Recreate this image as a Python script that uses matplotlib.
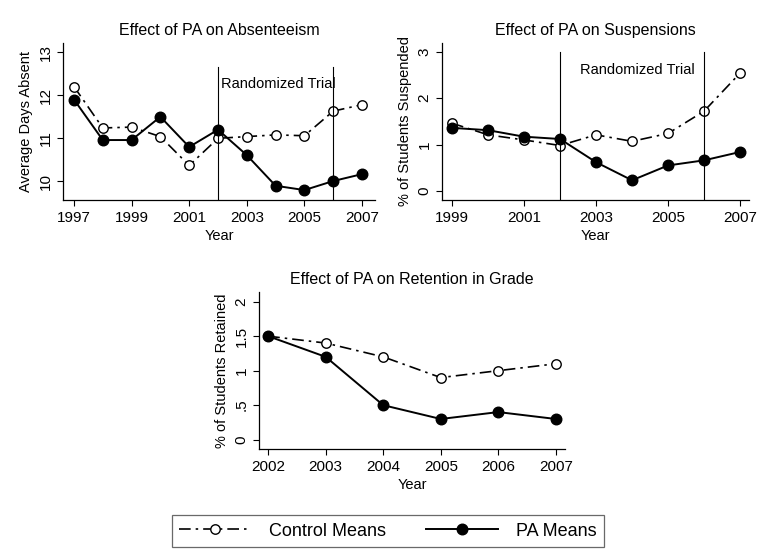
import matplotlib
matplotlib.use('Agg')
import matplotlib.pyplot as plt
from matplotlib.lines import Line2D

plt.rcParams['font.family'] = ['Liberation Sans', 'DejaVu Sans']

# Absenteeism
years_abs = [1997, 1998, 1999, 2000, 2001, 2002, 2003, 2004, 2005, 2006, 2007]
ctrl_abs = [12.2, 11.24, 11.26, 11.04, 10.37, 11.0, 11.04, 11.08, 11.06, 11.63, 11.78]
pa_abs = [11.9, 10.96, 10.96, 11.5, 10.8, 11.2, 10.61, 9.9, 9.8, 10.01, 10.17]

# Suspensions
years_sus = [1999, 2000, 2001, 2002, 2003, 2004, 2005, 2006, 2007]
ctrl_sus = [1.46, 1.21, 1.10, 0.98, 1.21, 1.07, 1.24, 1.72, 2.54]
pa_sus = [1.36, 1.31, 1.17, 1.12, 0.62, 0.23, 0.55, 0.66, 0.84]

# Retention
years_ret = [2002, 2003, 2004, 2005, 2006, 2007]
ctrl_ret = [1.5, 1.4, 1.2, 0.9, 1.0, 1.1]
pa_ret = [1.5, 1.2, 0.5, 0.3, 0.4, 0.3]

trial_years = [2002, 2006]

W, H = 758, 560
fig = plt.figure(figsize=(W / 100, H / 100), dpi=100)


def px_axes(l, t, r, b):
    return fig.add_axes([l / W, 1 - b / H, (r - l) / W, (b - t) / H])


ctrl_style = dict(color='black', lw=1.2, marker='o', ms=6.8, mfc='white',
                  mec='black', mew=1.0, dashes=(7, 3, 1.5, 3))
pa_style = dict(color='black', lw=1.4, marker='o', ms=7.6, mfc='black', mec='black')


def style_axes(ax, ylabel, title):
    ax.spines['top'].set_visible(False)
    ax.spines['right'].set_visible(False)
    for s in ['left', 'bottom']:
        ax.spines[s].set_linewidth(0.9)
    ax.tick_params(direction='out', length=4, width=0.8, labelsize=11)
    ax.tick_params(axis='x', pad=4)
    for lab in ax.get_yticklabels():
        lab.set_rotation(90)
        lab.set_va('center')
    ax.set_ylabel(ylabel, fontsize=10.5, labelpad=4)
    ax.set_xlabel('Year', fontsize=10.5, labelpad=3)
    ax.set_title(title, fontsize=11.5, pad=6)


# panel 1
ax1 = px_axes(63, 43, 375, 200)
ax1.plot(years_abs, ctrl_abs, **ctrl_style)
ax1.plot(years_abs, pa_abs, **pa_style)
ax1.set_xlim(1996.62, 2007.45)
ax1.set_ylim(9.57, 13.21)
ax1.set_xticks([1997, 1999, 2001, 2003, 2005, 2007])
ax1.set_yticks([10, 11, 12, 13])
for yr in trial_years:
    ax1.axvline(yr, ymax=0.85, color='black', lw=0.8)
ax1.text(2002.1, 12.25, 'Randomized Trial', fontsize=10.5, va='center')
style_axes(ax1, 'Average Days Absent', 'Effect of PA on Absenteeism')

# panel 2
ax2 = px_axes(442, 43, 749, 200)
ax2.plot(years_sus, ctrl_sus, **ctrl_style)
ax2.plot(years_sus, pa_sus, **pa_style)
ax2.set_xlim(1998.72, 2007.25)
ax2.set_ylim(-0.195, 3.19)
ax2.set_xticks([1999, 2001, 2003, 2005, 2007])
ax2.set_yticks([0, 1, 2, 3])
for yr in trial_years:
    ax2.axvline(yr, ymax=0.945, color='black', lw=0.8)
ax2.text(2002.55, 2.6, 'Randomized Trial', fontsize=10.5, va='center')
style_axes(ax2, '% of Students Suspended', 'Effect of PA on Suspensions')

# panel 3
ax3 = px_axes(259, 292, 565, 449)
ax3.plot(years_ret, ctrl_ret, **ctrl_style)
ax3.plot(years_ret, pa_ret, **pa_style)
ax3.set_xlim(2001.84, 2007.16)
ax3.set_ylim(-0.135, 2.14)
ax3.set_xticks(years_ret)
ax3.set_yticks([0, 0.5, 1, 1.5, 2])
ax3.set_yticklabels(['0', '.5', '1', '1.5', '2'])
style_axes(ax3, '% of Students Retained', 'Effect of PA on Retention in Grade')

handles = [Line2D([], [], **ctrl_style), Line2D([], [], **pa_style)]
leg = fig.legend(handles, ['Control Means', 'PA Means'], loc='center',
                 bbox_to_anchor=(388 / W, 1 - 531 / H), ncol=2, fontsize=13,
                 frameon=True, fancybox=False, handlelength=4.0, columnspacing=2.2,
                 borderpad=0.4, handletextpad=1.0)
leg.get_frame().set_edgecolor('#444444')
leg.get_frame().set_linewidth(0.9)

fig.savefig('out.png', dpi=100)
